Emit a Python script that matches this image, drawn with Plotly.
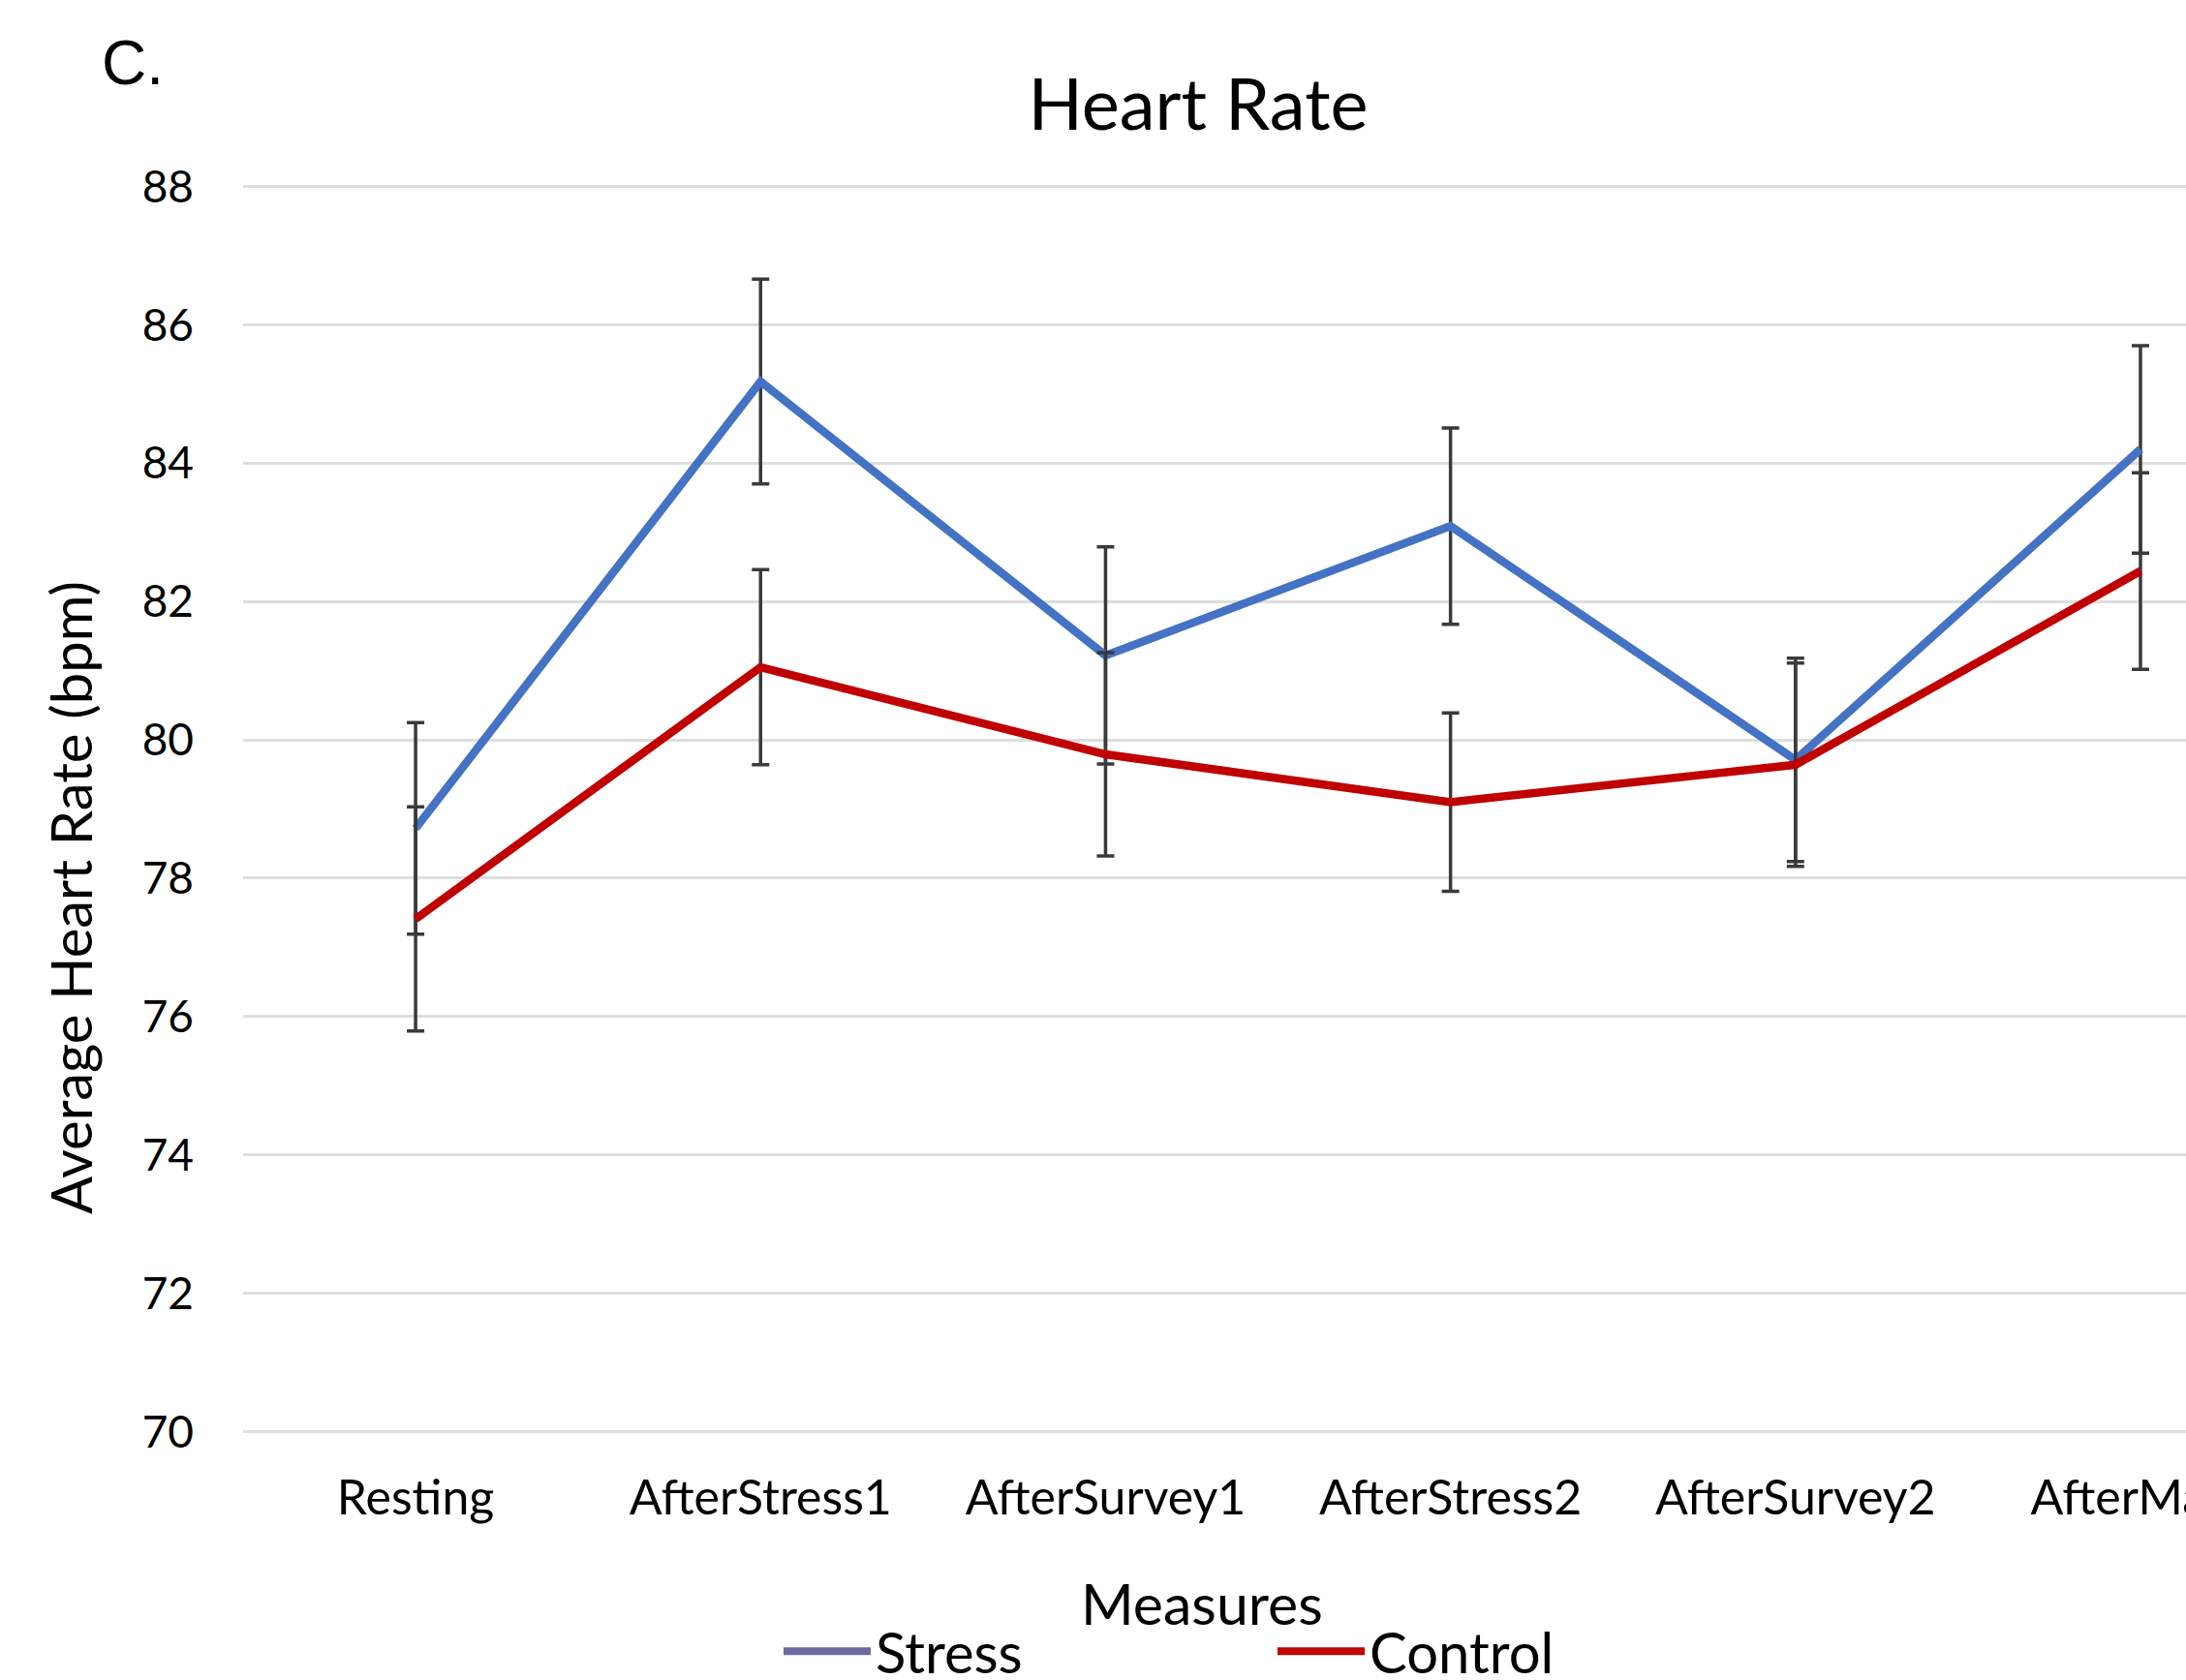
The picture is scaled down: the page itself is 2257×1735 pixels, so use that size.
import plotly.graph_objects as go

categories = ["Resting", "AfterStress1", "AfterSurvey1", "AfterStress2", "AfterSurvey2", "AfterMath"]
stress_mean = [78.72, 85.18, 81.22, 83.09, 79.71, 84.20]
stress_err = [1.53, 1.48, 1.57, 1.42, 1.47, 1.50]
control_mean = [77.41, 81.05, 79.79, 79.10, 79.64, 82.44]
control_err = [1.62, 1.41, 1.47, 1.29, 1.47, 1.42]
y_ticks = [70, 72, 74, 76, 78, 80, 82, 84, 86, 88]

FONT = "Lato"
W, H = 2257, 1735
L, R = 251, 0
# plot area: y=88 at 193px, y=70 at 1478px; pad range slightly so edge gridlines show
PAD = 0.05
PX_PER_UNIT = (1478 - 193) / 18.0
T = 193 - PAD * PX_PER_UNIT
B = H - (1478 + PAD * PX_PER_UNIT)
PH = H - T - B
PW = W - L - R

def px_to_paper_x(px):
    return (px - L) / PW

def px_to_paper_y(py):
    return (H - B - py) / PH

idx = list(range(len(categories)))

fig = go.Figure()
err_style = dict(type="data", color="#3A3A3A", thickness=3.5, width=9, visible=True)
fig.add_trace(go.Scatter(
    x=idx, y=stress_mean, mode="lines", name="Stress", showlegend=False,
    line=dict(color="#4472C4", width=8.5),
    error_y=dict(array=stress_err, **err_style),
))
fig.add_trace(go.Scatter(
    x=idx, y=control_mean, mode="lines", name="Control", showlegend=False,
    line=dict(color="#C00000", width=8.5),
    error_y=dict(array=control_err, **err_style),
))
# legend entries
fig.add_trace(go.Scatter(x=[None], y=[None], mode="lines", name="Stress",
                         line=dict(color="#6B6B9F", width=8)))
fig.add_trace(go.Scatter(x=[None], y=[None], mode="lines", name="Control",
                         line=dict(color="#C00000", width=8)))

fig.update_layout(
    width=W, height=H,
    margin=dict(l=L, r=R, t=T, b=B, autoexpand=False),
    paper_bgcolor="white", plot_bgcolor="white",
    font=dict(family=FONT, size=46, color="#000000"),
    title=dict(text="Heart Rate", x=px_to_paper_x(1237), xref="paper", xanchor="center",
               y=1 - 108 / H, yref="container", yanchor="middle",
               font=dict(family=FONT, size=74, color="#000000")),
    xaxis=dict(
        range=[-0.5, 5.132], tickmode="array", tickvals=idx, ticktext=categories,
        showgrid=False, showline=False, zeroline=False, ticks="",
        ticklabelstandoff=31, ticklabeloverflow="allow",
        tickfont=dict(family=FONT, size=50),
    ),
    yaxis=dict(
        range=[70 - PAD, 88 + PAD], tickmode="array", tickvals=y_ticks,
        showgrid=True, gridcolor="#DEDEDE", gridwidth=3,
        showline=False, zeroline=False, ticks="",
        ticklabelstandoff=50,
        tickfont=dict(family=FONT, size=46),
    ),
    legend=dict(orientation="h", x=px_to_paper_x(804), xanchor="left",
                y=px_to_paper_y(1705), yanchor="middle",
                font=dict(family=FONT, size=58), itemwidth=90, entrywidth=405,
                bgcolor="rgba(0,0,0,0)"),
    showlegend=True,
    annotations=[
        dict(text="C.", xref="paper", yref="paper", x=px_to_paper_x(103), y=px_to_paper_y(66),
             xanchor="left", yanchor="middle", showarrow=False,
             font=dict(family="Liberation Sans", size=64, color="#000000")),
        dict(text="Average Heart Rate (bpm)", xref="paper", yref="paper",
             x=px_to_paper_x(72), y=px_to_paper_y(927), textangle=-90,
             xanchor="center", yanchor="middle", showarrow=False,
             font=dict(family=FONT, size=58, color="#000000")),
        dict(text="Measures", xref="paper", yref="paper",
             x=px_to_paper_x(1241), y=px_to_paper_y(1655),
             xanchor="center", yanchor="middle", showarrow=False,
             font=dict(family=FONT, size=59, color="#000000")),
    ],
)

fig.write_html("out.html",
               config={"displayModeBar": False},
               post_script="document.body.style.margin='0';document.body.style.overflow='hidden';")
